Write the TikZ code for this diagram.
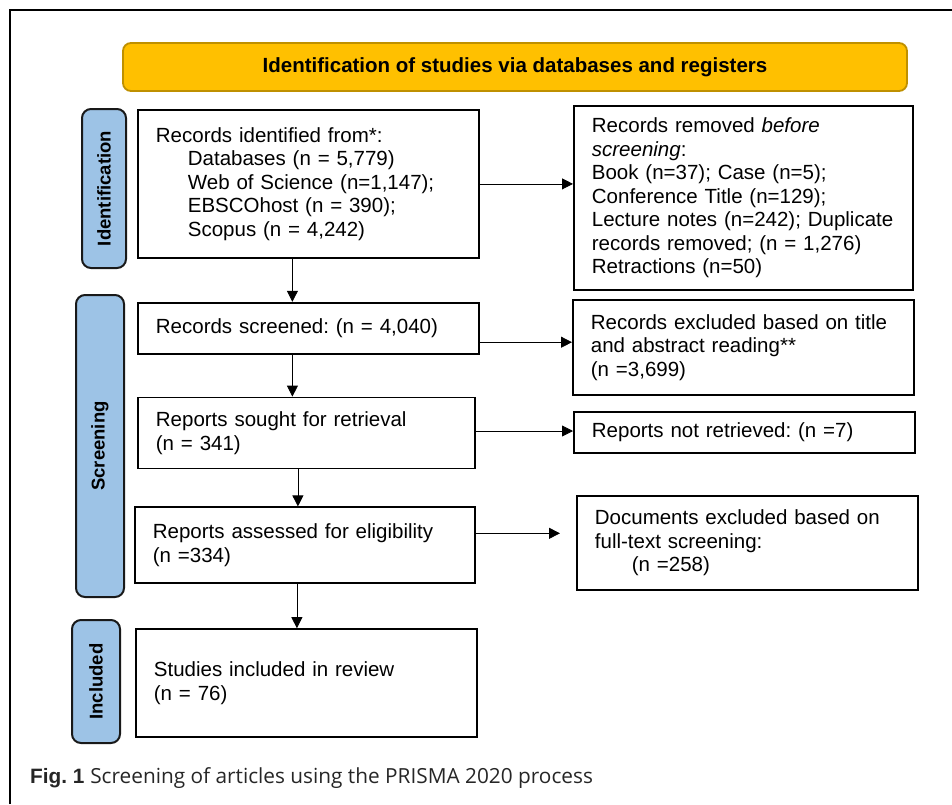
\documentclass[tikz,border=0pt]{standalone}
\usepackage{fontspec}
\setmainfont{Liberation Sans}
\newfontfamily\capfont{Open Sans}
\usetikzlibrary{arrows.meta, positioning}
\definecolor{ambar}{HTML}{FFC000}
\definecolor{ambarborde}{HTML}{BF9000}
\definecolor{celeste}{HTML}{9DC3E6}
\definecolor{gris}{HTML}{262626}
\frenchspacing

\begin{document}
\begin{tikzpicture}[x=1pt, y=-1pt,
      font=\fontsize{20.5}{23.5}\selectfont,
      stage/.style={draw, line width=1.8pt, align=left, inner xsep=18pt,
                    inner ysep=0pt, anchor=north west},
      phase/.style={draw=black!90, line width=2pt, fill=celeste,
                    rounded corners=9pt, rotate=90,
                    font=\fontsize{18.5}{22}\selectfont\bfseries},
      head/.style={draw=ambarborde, line width=1.8pt, fill=ambar,
                   rounded corners=8pt, font=\fontsize{20.5}{24}\selectfont\bfseries},
      arrow/.style={-{Triangle[length=11pt, width=11pt]}, line width=0.8pt} ]

    \useasboundingbox (0,0) rectangle (952,804);
    \draw[line width=2.4pt] (10,804) -- (10,10) -- (952,10);

    \node[head, minimum width=784pt, minimum height=48pt] (head) at (515,67)
      {Identification of studies via databases and registers};

    \node[phase, minimum width=159pt, minimum height=44pt] (idf) at (104,188.5) {Identification};
    \node[phase, minimum width=302pt, minimum height=48pt] (scr) at (100,446) {Screening};
    \node[phase, minimum width=123pt, minimum height=48pt] (inc) at (96,681.5) {Included};

    \node[stage, text width=305pt, minimum height=148pt] (b1) at (137,109)
      {Records identified from*:\\
       \hspace*{32pt}Databases (n = 5,779)\\
       \hspace*{32pt}Web of Science (n=1,147);\\
       \hspace*{32pt}EBSCOhost (n = 390);\\
       \hspace*{32pt}Scopus (n = 4,242)};
    \node[stage, text width=305pt, minimum height=51pt,
          below=43pt of b1.south west, anchor=north west] (b2)
      {Records screened: (n = 4,040)};
    \node[stage, text width=301pt, minimum height=71pt,
          below=42pt of b2.south west, anchor=north west] (b3)
      {Reports sought for retrieval\\ (n = 341)};
    \node[stage, text width=304pt, minimum height=76pt,
          below=37pt of b3.south west, anchor=north west, xshift=-3pt] (b4)
      {Reports assessed for eligibility\\ (n =334)};
    \node[stage, text width=305pt, minimum height=108pt,
          below=44pt of b4.south west, anchor=north west, xshift=1pt] (b5)
      {Studies included in review\\ (n = 76)};

    \node[stage, text width=303pt, minimum height=184pt] (r1) at (573,105)
      {Records removed \textit{before}\\
       \textit{screening}:\\
       Book (n=37); Case (n=5);\\
       Conference Title (n=129);\\
       Lecture notes (n=242); Duplicate\\
       records removed; (n = 1,276)\\
       Retractions (n=50)};
    \node[stage, text width=305pt, minimum height=95pt] (r2) at (572,299)
      {Records excluded based on title\\ and abstract reading**\\ (n =3,699)};
    \node[stage, text width=305pt, minimum height=41pt] (r3) at (573,411)
      {Reports not retrieved: (n =7)};
    \node[stage, text width=305pt, minimum height=94pt] (r4) at (576,495)
      {Documents excluded based on\\ full-text screening:\\ \hspace*{37pt}(n =258)};

    \node[anchor=west, inner sep=0pt, text=gris, font=\fontsize{20.8}{25}\selectfont]
      (cap) at (30,778) {\textbf{Fig. 1} {\capfont Screening of articles using the PRISMA 2020 process}};

    \draw[arrow] ([xshift=-16pt]b1.south) -- ([xshift=-16pt]b1.south |- b2.north);
    \draw[arrow] ([xshift=-16pt]b2.south) -- ([xshift=-16pt]b2.south |- b3.north);
    \draw[arrow] ([xshift=-8.5pt]b3.south) -- ([xshift=-8.5pt]b3.south |- b4.north);
    \draw[arrow] ([xshift=-8pt]b4.south) -- ([xshift=-8pt]b4.south |- b5.north);

    \draw[arrow] (b1.east) -- (b1.east -| r1.west);
    \draw[arrow] ([yshift=-14pt]b2.east) -- ([yshift=-14pt]b2.east -| r2.west);
    \draw[arrow] ([yshift=2pt]b3.east) -- ([yshift=2pt]b3.east -| r3.west);
    \draw[arrow, shorten >=16pt] ([yshift=12pt]b4.east) -- ([yshift=12pt]b4.east -| r4.west);
  \end{tikzpicture}
\end{document}
